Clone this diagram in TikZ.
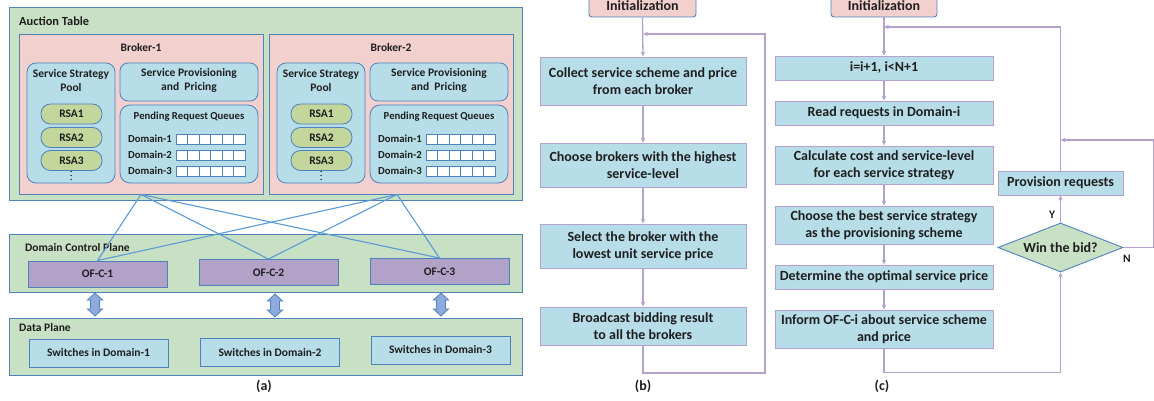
\documentclass[tikz,border=0pt]{standalone}
\usepackage{fontspec}
\setmainfont{Carlito}
\usetikzlibrary{shapes.geometric,arrows.meta,calc}
\definecolor{bggreen}{RGB}{200,224,196}
\definecolor{brpink}{RGB}{242,208,206}
\definecolor{ltblue}{RGB}{183,222,232}
\definecolor{rsagreen}{RGB}{195,214,155}
\definecolor{ofpurple}{RGB}{179,162,199}
\definecolor{bdblue}{RGB}{79,129,189}
\definecolor{lnblue}{RGB}{91,155,213}
\definecolor{arrfill}{RGB}{142,169,219}
\definecolor{lav}{RGB}{180,162,204}
\definecolor{txt}{RGB}{30,30,30}
\begin{document}
\begin{tikzpicture}[x=1pt,y=-1pt,
  every node/.style={text=txt, inner sep=0pt},
  font=\bfseries\fontsize{14}{17}\selectfont,
  small/.style={font=\bfseries\fontsize{11.5}{14.5}\selectfont},
  qfont/.style={font=\bfseries\fontsize{10.7}{13}\selectfont},
  panel/.style={draw=bdblue, fill=bggreen, line width=0.9pt, minimum width=513pt},
  broker/.style={draw=bdblue, fill=brpink, line width=0.9pt, minimum width=244pt, minimum height=160pt},
  rbox/.style={draw=bdblue, fill=ltblue, line width=0.8pt, rounded corners=9pt},
  rsa/.style={draw=bdblue, fill=rsagreen, line width=0.8pt, rounded corners=9.5pt, minimum width=61pt, minimum height=20pt, small},
  ofc/.style={draw=bdblue, fill=ofpurple, line width=0.9pt, minimum width=139pt, minimum height=26pt, small},
  sw/.style={draw=bdblue, fill=ltblue, line width=0.9pt, minimum width=139pt, minimum height=28pt, small},
  fbox/.style={draw=lav, fill=ltblue, line width=0.9pt, align=center},
  initbox/.style={draw=bdblue, fill=brpink, line width=0.9pt, rounded corners=3pt, minimum width=107pt, minimum height=22pt},
  flow/.style={draw=lav, line width=1.3pt, -{Stealth[length=5pt,width=4.5pt]}},
  link/.style={draw=lnblue, line width=1.1pt},
  dblarrow/.pic={\draw[draw=bdblue, fill=arrfill, line width=0.8pt] (0,-11.5) -- (7.5,-4.5) -- (4.5,-4.5) -- (4.5,4.5) -- (7.5,4.5) -- (0,11.5) -- (-7.5,4.5) -- (-4.5,4.5) -- (-4.5,-4.5) -- (-7.5,-4.5) -- cycle;}
]
\useasboundingbox (0,0) rectangle (1154,401);

% ---------------- (a) ----------------
\node[panel, minimum height=193pt] (auction) at (265.5,103.5) {};
\node[anchor=west, font=\bfseries\fontsize{12.4}{14}\selectfont] (auctionlbl) at (19,21) {Auction Table};

\foreach \b/\s in {1/0,2/250}{
  \begin{scope}[xshift=\s pt]
    \node[broker] (broker\b) at (141,114) {};
    \node[small] (brokerlbl\b) at (141,48) {Broker-\b};
    \node[rbox, minimum width=88pt, minimum height=120pt] (ssp\b) at (71,123) {};
    \node[small, align=center] (ssplbl\b) at (71,80.5) {Service Strategy\\Pool};
    \node[rsa] (rsaa\b) at (71.5,114) {RSA1};
    \node[rsa] (rsab\b) at (71.5,137.5) {RSA2};
    \node[rsa] (rsac\b) at (71.5,160.5) {RSA3};
    \foreach \dy in {171.5,175.5,179.5}{
      \fill[txt] (71,\dy) circle (0.75pt);
    }
    \node[rbox, minimum width=138pt, minimum height=38pt, rounded corners=8pt] (spp\b) at (189,82) {};
    \node[small, align=center] (spplbl\b) at (189,80.5) {Service Provisioning\\and\ \ Pricing};
    \node[rbox, minimum width=138pt, minimum height=78pt, rounded corners=10pt] (prq\b) at (189,144) {};
    \node[qfont] (prqlbl\b) at (189,116.5) {Pending Request Queues};
    \foreach \d/\yy in {1/139.5,2/155.5,3/171.5}{
      \node[qfont] (dlbl\b\d) at (150,\yy-1) {Domain-\d};
      \draw[draw=bdblue, fill=white, line width=0.8pt] (176,\yy-5) rectangle (245,\yy+5);
      \foreach \k in {1,...,5}{
        \draw[draw=bdblue, line width=0.8pt] (176+11.5*\k,\yy-5) -- (176+11.5*\k,\yy+5);
      }
    }
  \end{scope}
}

\node[panel, minimum height=58pt] (dcp) at (265.5,263) {};
\node[panel, minimum height=57pt] (dp) at (265.5,346.5) {};

\coordinate (b1out) at (broker1.south);
\coordinate (b2out) at ($(broker2.south)+(6,0)$);
\node[anchor=west, small] (dcplbl) at (25,248) {Domain Control Plane};
\node[anchor=west, small] (dplbl) at (19,328) {Data Plane};

\node[ofc] (ofc1) at (97.5,274) {OF-C-1};
\node[ofc] (ofc2) at (268.5,272.5) {OF-C-2};
\node[ofc] (ofc3) at (439.5,271.5) {OF-C-3};

\foreach \o in {1,2,3}{
  \draw[link] (b1out) -- (ofc\o.north);
  \draw[link] (b2out) -- (ofc\o.north);
}

\node[sw] (sw1) at (98.5,353) {Switches in Domain-1};
\node[sw] (sw2) at (270,352.5) {Switches in Domain-2};
\node[sw] (sw3) at (440.5,350) {Switches in Domain-3};

\pic at (95,304.5) {dblarrow};
\pic at (275,305.5) {dblarrow};
\pic at (441,304.5) {dblarrow};

\node (lbla) at (264,386) {(a)};

% ---------------- (b) ----------------
\node[initbox] (initb) at (642.5,6) {Initialization};
\node[fbox, minimum width=206pt, minimum height=48pt] (collect) at (643,81) {Collect service scheme and price\\from each broker};
\node[fbox, minimum width=206pt, minimum height=44pt] (chooseb) at (643,165) {Choose brokers with the highest\\service-level};
\node[fbox, minimum width=206pt, minimum height=44pt] (select) at (643,246) {Select the broker with the\\lowest unit service price};
\node[fbox, minimum width=206pt, minimum height=38pt] (broadcast) at (643,326) {Broadcast bidding result\\to all the brokers};
\coordinate (bjoin) at (643,34);
\coordinate (bcorner) at (765,373);
\draw[flow] (initb.south) -- (collect.north);
\draw[flow] (collect.south) -- (chooseb.north);
\draw[flow] (chooseb.south) -- (select.north);
\draw[flow] (select.south) -- (broadcast.north);
\draw[flow] (broadcast.south) |- (bcorner) |- (bjoin);
\node (lblb) at (643,386) {(b)};

% ---------------- (c) ----------------
\node[initbox, minimum width=106pt] (initc) at (884,6) {Initialization};
\node[fbox, minimum width=218pt, minimum height=24pt] (c1) at (884,68) {i=i+1, i<N+1};
\node[fbox, minimum width=218pt, minimum height=24pt] (c2) at (884,113) {Read requests in Domain-i};
\node[fbox, minimum width=218pt, minimum height=38pt] (c3) at (884,165) {Calculate cost and service-level\\for each service strategy};
\node[fbox, minimum width=218pt, minimum height=38pt] (c4) at (884,225) {Choose the best service strategy\\as the provisioning scheme};
\node[fbox, minimum width=218pt, minimum height=24pt] (c5) at (884,277) {Determine the optimal service price};
\node[fbox, minimum width=218pt, minimum height=38pt] (c6) at (884,329) {Inform OF-C-i about service scheme\\and price};
\node[fbox, minimum width=125pt, minimum height=24pt] (prov) at (1060.5,183) {Provision requests};
\node[diamond, draw=bdblue, fill=bggreen, line width=0.9pt, shape aspect=2.55, minimum width=125pt, minimum height=49pt] (dia) at (1060.5,247.5) {Win the bid?};
\node[small] (ylbl) at (1052,215) {Y};
\node[small] (nlbl) at (1127,259) {N};
\coordinate (cjoin) at (884,27);
\coordinate (pjoin) at (1060.5,140);
\draw[flow] (initc.south) -- (c1.north);
\draw[flow] (c1.south) -- (c2.north);
\draw[flow] (c2.south) -- (c3.north);
\draw[flow] (c3.south) -- (c4.north);
\draw[flow] (c4.south) -- (c5.north);
\draw[flow] (c5.south) -- (c6.north);
\draw[flow] (c6.south) -- ++(0,24) -| (dia.south);
\draw[flow] (dia.north) -- (prov.south);
\draw[flow] (prov.north) |- (cjoin);
\draw[flow] (dia.east) -- ++(30,0) |- (pjoin);
\node (lblc) at (882,386) {(c)};
\end{tikzpicture}
\end{document}
